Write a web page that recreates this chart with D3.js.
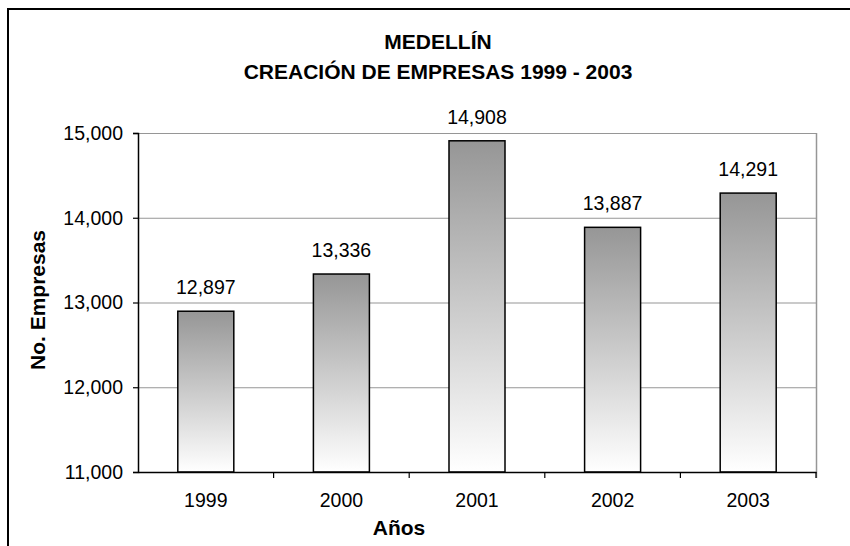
<!DOCTYPE html>
<html>
<head>
<meta charset="utf-8">
<script src="https://cdn.jsdelivr.net/npm/d3@7"></script>
<style>
  html, body { margin: 0; padding: 0; background: #fff; }
  svg { display: block; font-family: "Liberation Sans", Arial, sans-serif; }
</style>
</head>
<body>
<svg id="chart" width="850" height="546"></svg>
<script>
const years = ["1999", "2000", "2001", "2002", "2003"];
const empresas = [12897, 13336, 14908, 13887, 14291];
const yTicks = [11000, 12000, 13000, 14000, 15000];
const titleLines = ["MEDELLÍN", "CREACIÓN DE EMPRESAS 1999 - 2003"];
const xTitle = "Años";
const yTitle = "No. Empresas";

const svg = d3.select("#chart");
const W = 850, H = 546;
const plot = { left: 138, right: 816, top: 133, bottom: 472 };

// outer chart border (extends past right/bottom edges)
svg.append("rect")
  .attr("x", 8).attr("y", 9).attr("width", 900).attr("height", 600)
  .attr("fill", "#fff").attr("stroke", "#000").attr("stroke-width", 2);

const defs = svg.append("defs");
const grad = defs.append("linearGradient").attr("id", "barGrad")
  .attr("x1", 0).attr("y1", 0).attr("x2", 0).attr("y2", 1);
grad.append("stop").attr("offset", "0%").attr("stop-color", "#969696");
grad.append("stop").attr("offset", "100%").attr("stop-color", "#ffffff");

const x = d3.scaleBand().domain(years).range([plot.left, plot.right]).padding(0);
const y = d3.scaleLinear().domain([11000, 15000]).range([plot.bottom, plot.top]);

// gridlines
svg.append("g").selectAll("line").data(yTicks.slice(1)).join("line")
  .attr("x1", plot.left).attr("x2", plot.right)
  .attr("y1", d => y(d) + 0.5).attr("y2", d => y(d) + 0.5)
  .attr("stroke", "#969696").attr("stroke-width", 1.2);

// plot area right border
svg.append("line")
  .attr("x1", plot.right + 0.5).attr("x2", plot.right + 0.5)
  .attr("y1", plot.top).attr("y2", plot.bottom + 6)
  .attr("stroke", "#969696").attr("stroke-width", 1.5);

// bars
const frac = 0.413;
svg.append("g").selectAll("rect").data(years).join("rect")
  .attr("x", d => x(d) + x.bandwidth() * (1 - frac) / 2)
  .attr("width", x.bandwidth() * frac)
  .attr("y", (d, i) => y(empresas[i]))
  .attr("height", (d, i) => plot.bottom - y(empresas[i]))
  .attr("fill", "url(#barGrad)")
  .attr("stroke", "#000").attr("stroke-width", 1.5);

// value labels
svg.append("g").selectAll("text").data(years).join("text")
  .attr("x", d => x(d) + x.bandwidth() / 2)
  .attr("y", (d, i) => y(empresas[i]) - 17)
  .attr("text-anchor", "middle")
  .attr("font-size", "19.5px").attr("fill", "#000")
  .text((d, i) => d3.format(",")(empresas[i]));

// y axis
const yAxis = d3.axisLeft(y).tickValues(yTicks).tickFormat(d3.format(",")).tickSize(5).tickPadding(10);
const gy = svg.append("g").attr("transform", `translate(${plot.left},0)`).call(yAxis);
gy.select(".domain").attr("stroke", "#000").attr("stroke-width", 1.5);
gy.selectAll(".tick line").attr("stroke", "#000").attr("stroke-width", 1.2);
gy.selectAll(".tick text").attr("font-size", "19.5px").attr("fill", "#000")
  .attr("font-family", "Liberation Sans, Arial, sans-serif");

// x axis
const xAxis = d3.axisBottom(x).tickSize(0).tickPadding(21);
const gx = svg.append("g").attr("transform", `translate(0,${plot.bottom})`).call(xAxis);
gx.select(".domain").attr("stroke", "#000").attr("stroke-width", 1.5);
gx.selectAll(".tick text").attr("font-size", "19.5px").attr("fill", "#000")
  .attr("font-family", "Liberation Sans, Arial, sans-serif");
// category boundary ticks
const bounds = years.map(d => x(d)).concat([plot.right]).slice(1);
gx.append("g").selectAll("line").data(bounds).join("line")
  .attr("x1", d => d).attr("x2", d => d)
  .attr("y1", 0).attr("y2", 6)
  .attr("stroke", "#000").attr("stroke-width", 1.2);

// title
svg.append("text").attr("x", 438).attr("y", 49).attr("text-anchor", "middle")
  .attr("font-size", "21px").attr("font-weight", "bold").text(titleLines[0]);
svg.append("text").attr("x", 438).attr("y", 79).attr("text-anchor", "middle")
  .attr("font-size", "21px").attr("font-weight", "bold").text(titleLines[1]);

// axis titles
svg.append("text").attr("x", 399).attr("y", 535).attr("text-anchor", "middle")
  .attr("font-size", "21px").attr("font-weight", "bold").text(xTitle);
svg.append("text").attr("transform", "translate(45,300) rotate(-90)")
  .attr("text-anchor", "middle")
  .attr("font-size", "21px").attr("font-weight", "bold").text(yTitle);
</script>
</body>
</html>
